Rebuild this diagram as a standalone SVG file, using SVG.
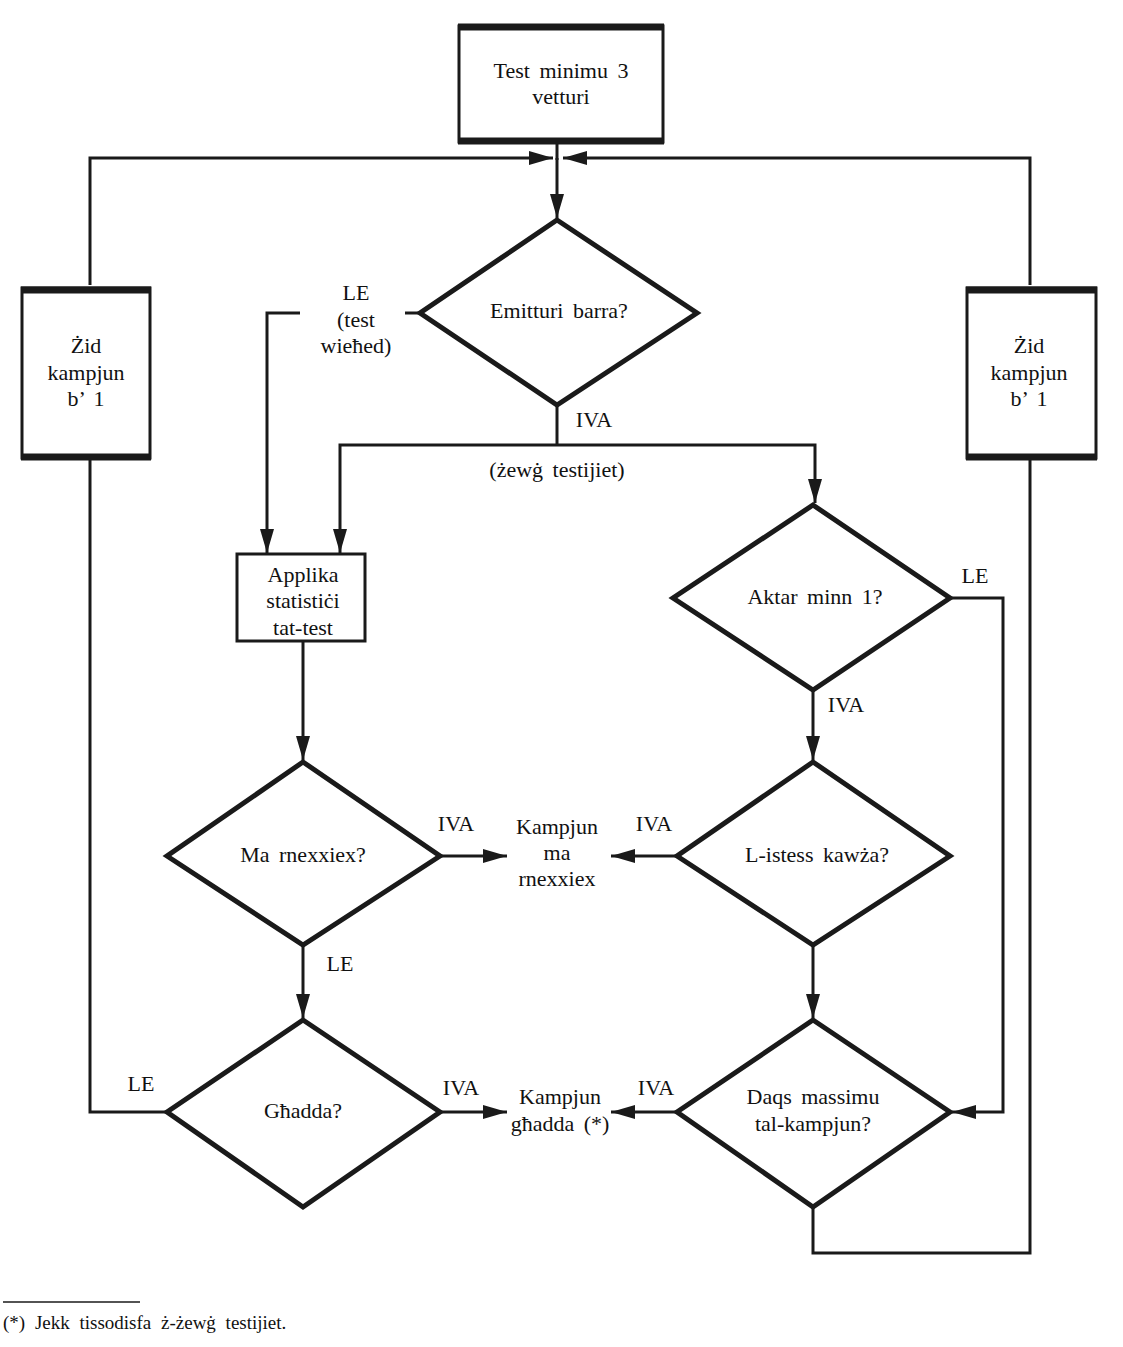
<svg xmlns="http://www.w3.org/2000/svg" width="1123" height="1347" viewBox="0 0 1123 1347">
<style>
text{font-family:"Liberation Serif","DejaVu Serif",serif;font-size:22px;word-spacing:4px;fill:#111;text-anchor:middle}
.dia{fill:#fff;stroke:#1a1a1a;stroke-width:5;stroke-linejoin:miter}
.box{fill:#fff;stroke:#1a1a1a;stroke-width:3}
.bar{stroke:#1a1a1a;stroke-width:7}
.con{fill:none;stroke:#1a1a1a;stroke-width:3}
.arr{marker-end:url(#ah)}
</style>
<defs>
<marker id="ah" viewBox="0 0 24 14" refX="24" refY="7" markerWidth="24" markerHeight="14" markerUnits="userSpaceOnUse" orient="auto">
<path d="M0,0 L24,7 L0,14 Z" fill="#1a1a1a"/>
</marker>
</defs>
<g id="connectors">
<polyline class="con" points="557,143 557,160"/>
<line class="con arr" x1="557" y1="158" x2="557" y2="218"/>
<polyline class="con arr" points="90,285 90,158 553,158"/>
<polyline class="con arr" points="1030,285 1030,158 563,158"/>
<polyline class="con" points="90,460 90,1112 167,1112"/>
<polyline class="con" points="1030,460 1030,1253 813,1253 813,1207"/>
<line class="con" x1="420" y1="313" x2="405" y2="313"/>
<polyline class="con arr" points="300,313 267,313 267,553"/>
<line class="con" x1="557" y1="405" x2="557" y2="445"/>
<polyline class="con arr" points="557,445 340,445 340,553"/>
<polyline class="con arr" points="557,445 815,445 815,503"/>
<line class="con arr" x1="303" y1="641" x2="303" y2="760"/>
<line class="con arr" x1="440" y1="856" x2="507" y2="856"/>
<line class="con arr" x1="677" y1="856" x2="611" y2="856"/>
<line class="con arr" x1="303" y1="945" x2="303" y2="1018"/>
<line class="con arr" x1="813" y1="690" x2="813" y2="760"/>
<line class="con arr" x1="813" y1="945" x2="813" y2="1018"/>
<polyline class="con arr" points="950,598 1003,598 1003,1112 952,1112"/>
<line class="con arr" x1="440" y1="1112" x2="507" y2="1112"/>
<line class="con arr" x1="677" y1="1112" x2="611" y2="1112"/>
</g>
<g id="start">
<rect class="box" x="459" y="26" width="204" height="116" stroke-width="4"/>
<line class="bar" x1="458" y1="27" x2="664" y2="27" stroke-width="5"/>
<line class="bar" x1="458" y1="141" x2="664" y2="141" stroke-width="5"/>
<text x="561" y="78">Test minimu 3</text>
<text x="561" y="104">vetturi</text>
</g>
<g id="emitturi">
<polygon class="dia" points="557,220 697,313 557,405 420,313"/>
<text x="559" y="318">Emitturi barra?</text>
</g>
<g id="zid-left">
<rect class="box" x="22" y="288" width="128" height="170"/>
<line class="bar" x1="21" y1="290" x2="151" y2="290"/>
<line class="bar" x1="21" y1="457" x2="151" y2="457"/>
<text x="86" y="353">Żid</text>
<text x="86" y="380">kampjun</text>
<text x="86" y="406">b’ 1</text>
</g>
<g id="zid-right">
<rect class="box" x="967" y="288" width="129" height="170"/>
<line class="bar" x1="966" y1="290" x2="1097" y2="290"/>
<line class="bar" x1="966" y1="457" x2="1097" y2="457"/>
<text x="1029" y="353">Żid</text>
<text x="1029" y="380">kampjun</text>
<text x="1029" y="406">b’ 1</text>
</g>
<g id="label-le-test">
<text x="356" y="300">LE</text>
<text x="356" y="327">(test</text>
<text x="356" y="353">wieħed)</text>
</g>
<g id="label-iva-1"><text x="594" y="427">IVA</text></g>
<g id="label-zewg"><text x="557" y="477">(żewġ testijiet)</text></g>
<g id="applika">
<rect class="box" x="237" y="554" width="128" height="87"/>
<text x="303" y="582">Applika</text>
<text x="303" y="608">statistiċi</text>
<text x="303" y="635">tat-test</text>
</g>
<g id="aktar">
<polygon class="dia" points="813,505 950,598 813,690 673,598"/>
<text x="815" y="604">Aktar minn 1?</text>
</g>
<g id="label-le-aktar"><text x="975" y="583">LE</text></g>
<g id="label-iva-aktar"><text x="846" y="712">IVA</text></g>
<g id="ma-rnexxiex">
<polygon class="dia" points="303,762 440,856 303,945 167,856"/>
<text x="303" y="862">Ma rnexxiex?</text>
</g>
<g id="label-iva-ma"><text x="456" y="831">IVA</text></g>
<g id="kampjun-ma">
<text x="557" y="834">Kampjun</text>
<text x="557" y="860">ma</text>
<text x="557" y="886">rnexxiex</text>
</g>
<g id="label-iva-listess"><text x="654" y="831">IVA</text></g>
<g id="listess">
<polygon class="dia" points="813,762 950,856 813,945 677,856"/>
<text x="817" y="862">L-istess kawża?</text>
</g>
<g id="label-le-ma"><text x="340" y="971">LE</text></g>
<g id="ghadda">
<polygon class="dia" points="303,1020 440,1112 303,1207 167,1112"/>
<text x="303" y="1118">Għadda?</text>
</g>
<g id="label-le-ghadda"><text x="141" y="1091">LE</text></g>
<g id="label-iva-ghadda"><text x="461" y="1095">IVA</text></g>
<g id="kampjun-ghadda">
<text x="560" y="1104">Kampjun</text>
<text x="560" y="1131">għadda (*)</text>
</g>
<g id="label-iva-daqs"><text x="656" y="1095">IVA</text></g>
<g id="daqs">
<polygon class="dia" points="813,1020 950,1112 813,1207 677,1112"/>
<text x="813" y="1104">Daqs massimu</text>
<text x="813" y="1131">tal-kampjun?</text>
</g>
<g id="footnote">
<line x1="3" y1="1302" x2="140" y2="1302" stroke="#1a1a1a" stroke-width="1.5"/>
<text x="3" y="1329" style="text-anchor:start;font-size:19px;word-spacing:5px">(*) Jekk tissodisfa ż-żewġ testijiet.</text>
</g>
</svg>
